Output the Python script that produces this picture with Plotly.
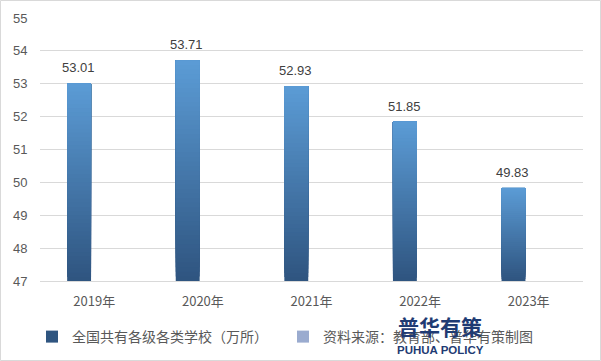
import plotly.graph_objects as go

categories = ["2019年", "2020年", "2021年", "2022年", "2023年"]
values = [53.01, 53.71, 52.93, 51.85, 49.83]
series_name = "全国共有各级各类学校（万所）"
source_name = "资料来源：教育部、普华有策制图"
y_min, y_max = 47, 55

FONT = "Liberation Sans, Arial, Noto Sans CJK SC, sans-serif"
CJK = "Noto Sans CJK SC, Liberation Sans, sans-serif"
TXT = "#595959"

bottom = (0x2f, 0x55, 0x80)
top = (0x5b, 0x9b, 0xd5)
N = 48

fig = go.Figure()
for k in range(N):
    t = k / (N - 1)
    c = tuple(round(bottom[i] + (top[i] - bottom[i]) * t) for i in range(3))
    col = "rgb(%d,%d,%d)" % c
    bases = [y_min + (v - y_min) * k / N for v in values]
    heights = [v - b for v, b in zip(values, bases)]
    fig.add_trace(go.Bar(
        x=categories, y=heights, base=bases,
        width=0.22, offset=-0.25,
        marker=dict(color=col if k else "#3a6a9c", line=dict(width=0)),
        name=series_name, showlegend=(k == 0), hoverinfo="skip",
    ))
    if k == 0:
        fig.data[-1].marker.color = "rgb(%d,%d,%d)" % bottom

fig.add_trace(go.Bar(
    x=categories, y=[None] * len(categories),
    name=source_name, marker=dict(color="#9aabcf", line=dict(width=0)),
    showlegend=True,
))

for c, v in zip(categories, values):
    fig.add_annotation(x=c, y=v, text=f"{v:.2f}", showarrow=False,
                       xshift=-16, yshift=6, yanchor="bottom",
                       font=dict(family=FONT, size=13, color="#404040"))

L, R, T, B = 40, 18, 18, 80
W, H = 601, 361
pw, ph = W - L - R, H - T - B
def px(x):
    return (x - L) / pw
def py(y):
    return (H - B - y) / ph

fig.add_shape(type="rect", xref="paper", yref="paper",
              x0=px(0.5), x1=px(600.5), y0=py(360.5), y1=py(0.5),
              line=dict(color="#d9d9d9", width=1), layer="below")

fig.add_annotation(xref="paper", yref="paper", x=px(440), y=py(326),
                   xanchor="center", yanchor="middle",
                   text="<b>普华有策</b>", showarrow=False,
                   font=dict(family=CJK, size=21, color="#1f3b73"))
fig.add_annotation(xref="paper", yref="paper", x=px(440), y=py(350),
                   xanchor="center", yanchor="middle",
                   text="<b>PUHUA POLICY</b>", showarrow=False,
                   font=dict(family=FONT, size=11.5, color="#1f3b73"))

fig.update_layout(
    width=W, height=H,
    margin=dict(l=L, r=R, t=T, b=B, autoexpand=False),
    paper_bgcolor="white", plot_bgcolor="white",
    barmode="overlay",
    showlegend=True,
    legend=dict(orientation="h", x=px(32), xanchor="left", y=py(337), yanchor="middle",
                entrywidth=206, entrywidthmode="pixels",
                font=dict(family=CJK, size=14, color=TXT),
                bgcolor="rgba(0,0,0,0)", itemclick=False),
    xaxis=dict(type="category", showgrid=False, showline=True, linecolor="#d9d9d9",
               ticks="outside", ticklen=8, tickcolor="rgba(0,0,0,0)",
               tickfont=dict(family=CJK, size=13, color=TXT), fixedrange=True),
    yaxis=dict(range=[y_min, y_max], dtick=1, showgrid=True, gridcolor="#d9d9d9",
               zeroline=False, ticks="outside", ticklen=9, tickcolor="rgba(0,0,0,0)",
               tickfont=dict(family=FONT, size=13, color=TXT), fixedrange=True),
)

fig.write_html("out.html", config={"displayModeBar": False},
               post_script="document.body.style.margin='0';document.body.style.overflow='hidden';")
